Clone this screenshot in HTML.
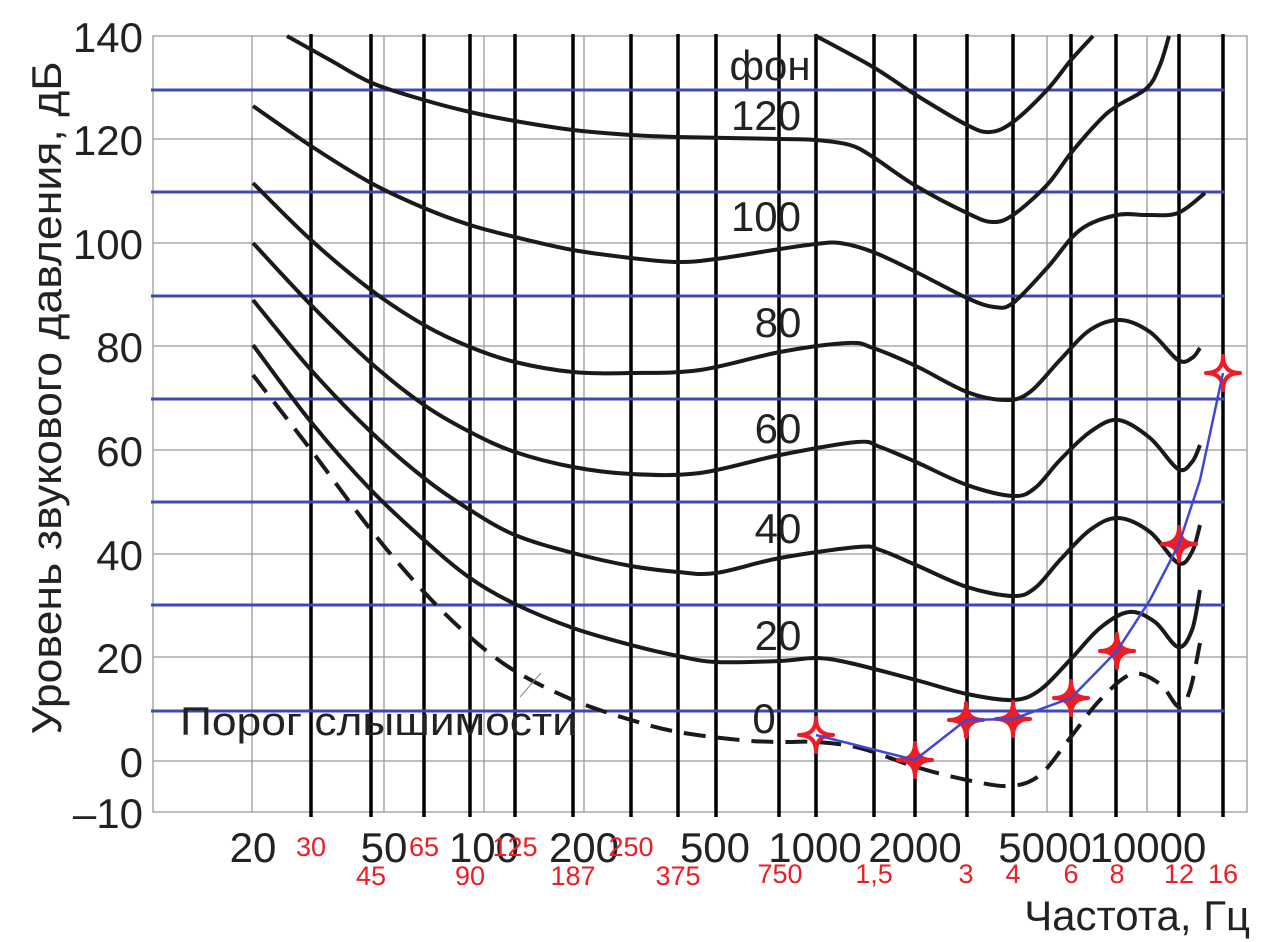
<!DOCTYPE html>
<html><head><meta charset="utf-8"><style>
html,body{margin:0;padding:0;background:#fff;}
svg{display:block;}
text{font-family:"Liberation Sans",sans-serif;}
</style></head><body>
<svg id="s" width="1280" height="942" viewBox="0 0 1280 942" xmlns="http://www.w3.org/2000/svg">
<rect width="1280" height="942" fill="#fff"/>
<g stroke="#999" stroke-width="1.3" fill="none">
<rect x="153" y="36" width="1094" height="776"/>
<line x1="153" y1="139" x2="1247" y2="139"/><line x1="153" y1="243" x2="1247" y2="243"/>
<line x1="153" y1="346" x2="1247" y2="346"/><line x1="153" y1="450" x2="1247" y2="450"/>
<line x1="153" y1="554" x2="1247" y2="554"/><line x1="153" y1="657" x2="1247" y2="657"/>
<line x1="153" y1="761" x2="1247" y2="761"/>
<line x1="252" y1="36" x2="252" y2="812"/><line x1="384" y1="36" x2="384" y2="812"/>
<line x1="484" y1="36" x2="484" y2="812"/><line x1="584" y1="36" x2="584" y2="812"/>
<line x1="715" y1="36" x2="715" y2="812"/><line x1="815" y1="36" x2="815" y2="812"/>
<line x1="915" y1="36" x2="915" y2="812"/><line x1="1047" y1="36" x2="1047" y2="812"/>
<line x1="1147" y1="36" x2="1147" y2="812"/>
</g>
<g stroke="#000" stroke-width="3.5" id="vb"></g>
<g stroke="#3f48b4" stroke-width="3" id="hb"></g>
<g id="curves" fill="none" stroke="#1a1a1a" stroke-width="4"></g>
<line x1="520" y1="697" x2="541" y2="673" stroke="#888" stroke-width="1"/>
<g fill="#222" font-size="42">
<text x="143" y="52" text-anchor="end">140</text>
<text x="143" y="155" text-anchor="end">120</text>
<text x="143" y="259" text-anchor="end">100</text>
<text x="143" y="362" text-anchor="end">80</text>
<text x="143" y="466" text-anchor="end">60</text>
<text x="143" y="570" text-anchor="end">40</text>
<text x="143" y="673" text-anchor="end">20</text>
<text x="143" y="777" text-anchor="end">0</text>
<text x="143" y="828" text-anchor="end">–10</text>
<text x="253" y="862" text-anchor="middle">20</text>
<text x="384" y="862" text-anchor="middle">50</text>
<text x="484" y="862" text-anchor="middle">100</text>
<text x="584" y="862" text-anchor="middle">200</text>
<text x="715" y="862" text-anchor="middle">500</text>
<text x="815" y="862" text-anchor="middle">1000</text>
<text x="915" y="862" text-anchor="middle">2000</text>
<text x="1045" y="862" text-anchor="middle">5000</text>
<text x="1148" y="862" text-anchor="middle">10000</text>
<text x="1250" y="930" text-anchor="end">Частота, Гц</text>
<text x="180" y="735" font-size="40" textLength="397" lengthAdjust="spacingAndGlyphs">Порог слышимости</text>
<text x="770" y="80" text-anchor="middle">фон</text>
<text x="766" y="130" text-anchor="middle">120</text>
<text x="766" y="231" text-anchor="middle">100</text>
<text x="778" y="337" text-anchor="middle">80</text>
<text x="778" y="443" text-anchor="middle">60</text>
<text x="778" y="543" text-anchor="middle">40</text>
<text x="778" y="650" text-anchor="middle">20</text>
<text x="764" y="733" text-anchor="middle">0</text>
<text transform="translate(61,398) rotate(-90)" text-anchor="middle" font-size="42" textLength="673" lengthAdjust="spacingAndGlyphs">Уровень звукового давления, дБ</text>
</g>
<g fill="#ee1c25" font-size="27" text-anchor="middle">
<text x="311" y="856">30</text><text x="424" y="856">65</text><text x="515" y="856">125</text><text x="631" y="856">250</text>
<text x="371" y="885">45</text><text x="470" y="885">90</text><text x="573" y="885">187</text><text x="678" y="885">375</text>
<text x="780" y="883">750</text><text x="874" y="883">1,5</text><text x="966" y="883">3</text><text x="1013" y="883">4</text>
<text x="1071" y="883">6</text><text x="1117" y="883">8</text><text x="1179" y="883">12</text><text x="1223" y="883">16</text>
</g>
<polyline id="bl" fill="none" stroke="#3f48d4" stroke-width="2.5" points="816,735 915,760 966,720 1013,719 1071,698 1117,651 1150,600 1179,544 1200,480 1223,373"/>
<g id="stars" fill="#ee1c25"></g>
</svg>
<script>
var NS="http://www.w3.org/2000/svg";
function el(p,t,a){var e=document.createElementNS(NS,t);for(var k in a)e.setAttribute(k,a[k]);p.appendChild(e);return e;}
var vb=document.getElementById('vb');
[311,371,424,470,515,573,631,678,716,779,816,874,915,967,1013,1071,1116,1179,1223].forEach(function(x){el(vb,'line',{x1:x,y1:34,x2:x,y2:817});});
var hb=document.getElementById('hb');
[90,192,296,399,502,605,711].forEach(function(y){el(hb,'line',{x1:151,y1:y,x2:1225,y2:y});});
function cr(p){var d="M"+p[0][0]+","+p[0][1];for(var i=0;i<p.length-1;i++){var p0=p[i-1]||p[i],p1=p[i],p2=p[i+1],p3=p[i+2]||p2;
d+=" C"+(p1[0]+(p2[0]-p0[0])/6)+","+(p1[1]+(p2[1]-p0[1])/6)+" "+(p2[0]-(p3[0]-p1[0])/6)+","+(p2[1]-(p3[1]-p1[1])/6)+" "+p2[0]+","+p2[1];}return d;}
var C=[
[[816,36],[873,67],[916,95],[967,125],[990,132],[1013,122],[1047,90],[1071,60],[1093,36]],
[[287,36],[330,60],[372,83],[424,100],[470,112],[515,121],[573,130],[631,135],[678,137],[780,139],[816,140],[850,145],[873,157],[916,186],[967,213],[992,222],[1013,215],[1047,185],[1071,153],[1100,120],[1117,106],[1147,88],[1160,65],[1169,36]],
[[253,106],[311,146],[371,183],[424,208],[470,225],[515,237],[573,250],[631,258],[678,262],[716,259],[780,249],[816,244],[840,243],[873,252],[916,272],[967,298],[994,307],[1013,303],[1047,268],[1080,230],[1117,215],[1147,215],[1178,213],[1205,193]],
[[253,183],[311,240],[371,290],[424,325],[470,347],[515,362],[573,372],[631,373],[700,370],[780,352],[848,343],[873,348],[916,366],[967,392],[1006,400],[1030,392],[1060,360],[1090,330],[1120,320],[1150,332],[1178,360],[1192,358],[1200,348]],
[[253,243],[311,305],[371,363],[424,405],[470,432],[515,452],[573,467],[631,474],[700,473],[780,455],[857,442],[880,447],[916,462],[967,485],[1013,496],[1035,488],[1060,460],[1090,432],[1118,420],[1150,438],[1178,469],[1192,462],[1200,445]],
[[253,300],[311,370],[371,432],[424,478],[470,510],[515,535],[573,553],[631,566],[678,572],[716,573],[780,558],[858,547],[880,550],[916,565],[967,587],[1013,596],[1035,588],[1060,560],[1090,530],[1118,518],[1150,532],[1178,563],[1192,552],[1200,525]],
[[253,345],[311,422],[371,490],[424,540],[470,578],[515,604],[573,628],[631,645],[678,656],[716,662],[780,661],[816,658],[850,663],[916,680],[967,694],[1013,700],[1040,690],[1070,660],[1100,628],[1129,612],[1155,622],[1178,647],[1192,630],[1200,590]]
];
var g=document.getElementById('curves');
C.forEach(function(p){el(g,'path',{d:cr(p)});});
el(g,'path',{d:cr([[253,375],[311,450],[371,530],[424,592],[470,637],[515,671],[573,700],[631,720],[678,732],[740,740],[780,742],[816,742],[860,748],[916,767],[967,780],[1010,786],[1040,775],[1070,738],[1100,700],[1132,674],[1160,684],[1179,707],[1190,690],[1200,643]]),"stroke-dasharray":"22,12"});
var st=document.getElementById('stars');
[[816,735,1],[915,760,0],[966,720,0],[1013,719,0],[1071,698,0],[1117,651,0],[1179,544,0],[1223,373,1]].forEach(function(s){
var x=s[0],y=s[1],r=17;
el(st,'path',{d:"M"+x+","+(y-r)+" Q"+x+","+y+" "+(x+r)+","+y+" Q"+x+","+y+" "+x+","+(y+r)+" Q"+x+","+y+" "+(x-r)+","+y+" Q"+x+","+y+" "+x+","+(y-r)+"Z",stroke:"#ee1c25","stroke-width":4,fill:s[2]?"#fff":"#ee1c25","stroke-linejoin":"round"});
});
document.getElementById('s').appendChild(document.getElementById('bl'));
</script>
</body></html>
